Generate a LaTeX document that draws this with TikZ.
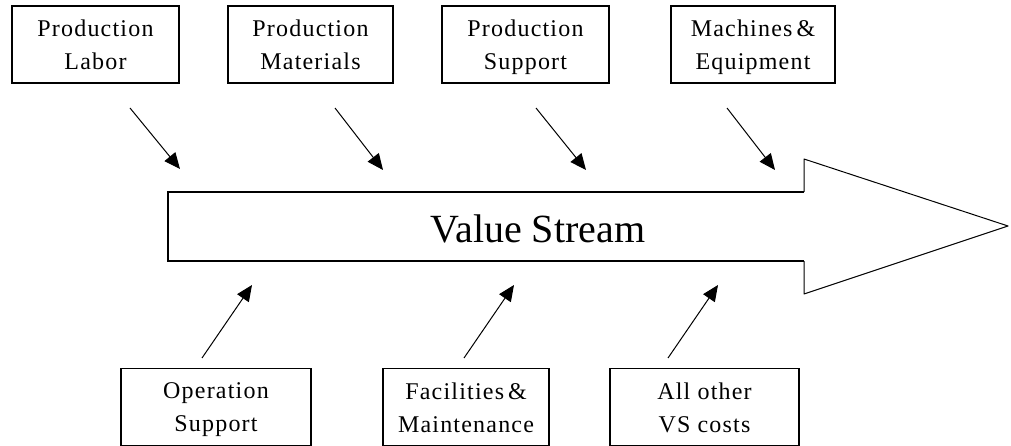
\documentclass[tikz,border=0pt]{standalone}
\usepackage{fontspec}
\setmainfont{Liberation Serif}
\newfontfamily\labelfont[LetterSpace=5]{Liberation Serif}
\usetikzlibrary{arrows.meta}
% fixed line strut so every two-line label sits at the same baselines
\newcommand\lnstrut{\rule[-4pt]{0pt}{26pt}}
\begin{document}
\begin{tikzpicture}[x=1pt,y=-1pt,
  costbox/.style={draw, line width=1.6pt, minimum height=77pt, inner sep=0pt,
    align=center, font=\labelfont\fontsize{24}{33}\selectfont},
  feed/.style={line width=1pt, -{Triangle[length=16pt,width=14pt]}},
  ]
\useasboundingbox (0,0) rectangle (1011,446);

% cost categories above the stream
\node[costbox, minimum width=167pt] (labor) at (95.5,44.5) {\lnstrut Production\\\lnstrut Labor};
\node[costbox, minimum width=165pt] (materials) at (310.5,44.5) {\lnstrut Production\\\lnstrut Materials};
\node[costbox, minimum width=167pt] (support) at (525.5,44.5) {\lnstrut Production\\\lnstrut Support};
\node[costbox, minimum width=164pt] (machines) at (753,44.5) {\lnstrut Machines\,\&\\\lnstrut Equipment};

% cost categories below the stream
\node[costbox, minimum width=190pt] (operation) at (216,407) {\lnstrut Operation\\\lnstrut Support};
\node[costbox, minimum width=166pt] (facilities) at (466,407) {\lnstrut Facilities\,\&\\\lnstrut Maintenance};
\node[costbox, minimum width=189pt] (other) at (704.5,407) {\lnstrut All other\\\lnstrut VS costs};

% the value stream arrow
\draw[line width=1pt, line join=round] (804,192) -- (804,159) -- (1008,226) -- (804,294) -- (804,261);
\draw[line width=1.6pt] (804,192) -- (168,192) -- (168,261) -- (804,261);
\node[font=\fontsize{40}{48}\selectfont, anchor=base, inner sep=0pt] (stream) at (538,243) {Value Stream};

% feeder arrows
\coordinate (s1) at (130,108); \coordinate (t1) at (180,169);
\coordinate (s2) at (335,108); \coordinate (t2) at (383,170);
\coordinate (s3) at (536,108); \coordinate (t3) at (586,170);
\coordinate (s4) at (727,108); \coordinate (t4) at (775,170);
\coordinate (u1) at (202,358); \coordinate (v1) at (252,285);
\coordinate (u2) at (464,358); \coordinate (v2) at (514,285);
\coordinate (u3) at (668,358); \coordinate (v3) at (718,285);
\draw[feed] (s1) -- (t1);
\draw[feed] (s2) -- (t2);
\draw[feed] (s3) -- (t3);
\draw[feed] (s4) -- (t4);
\draw[feed] (u1) -- (v1);
\draw[feed] (u2) -- (v2);
\draw[feed] (u3) -- (v3);
\end{tikzpicture}
\end{document}
